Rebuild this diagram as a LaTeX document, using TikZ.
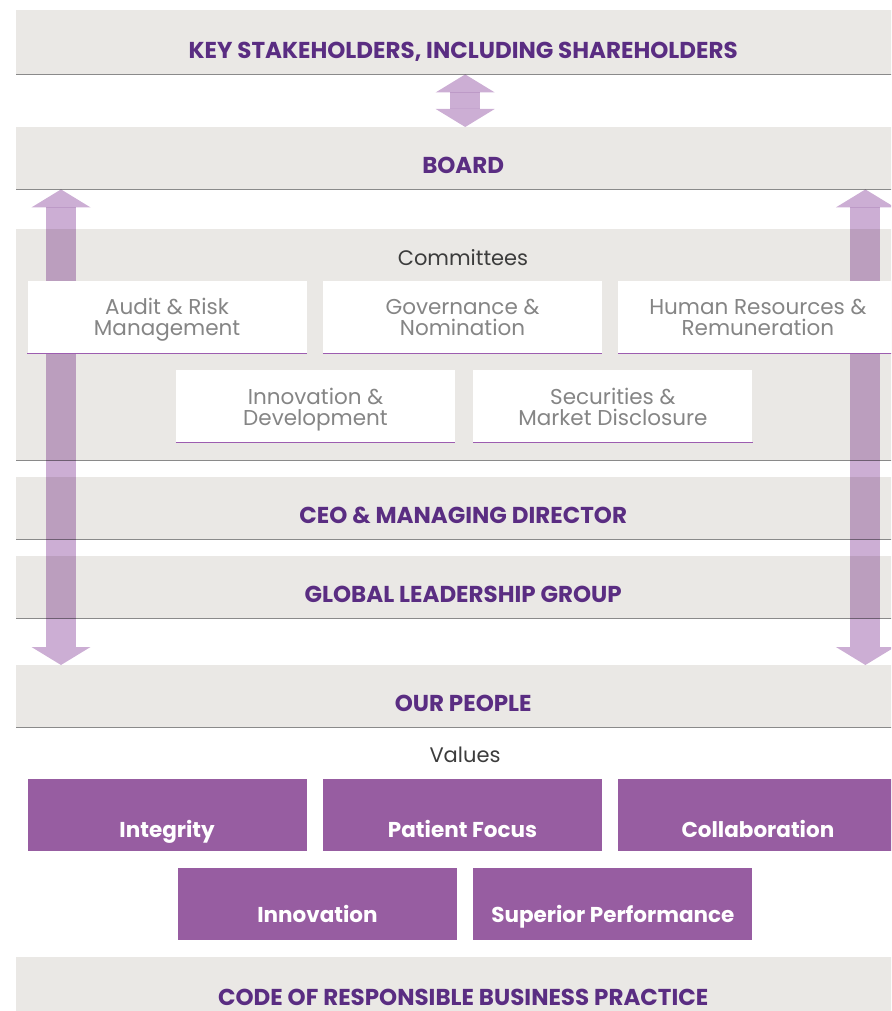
\documentclass[tikz,border=0pt]{standalone}
\usepackage{fontspec}
\setmainfont{Poppins}
\usetikzlibrary{positioning}
\usetikzlibrary{arrows.meta}

\definecolor{bandgray}{HTML}{EAE8E5}
\definecolor{linegray}{HTML}{8A8A8A}
\definecolor{darkplum}{HTML}{5A2D82}
\definecolor{plum}{HTML}{975DA1}
\definecolor{lilac}{HTML}{CCAED4}
\definecolor{boxline}{HTML}{9D5DB0}
\definecolor{boxtext}{HTML}{858585}
\definecolor{labeltext}{HTML}{3C3C3C}

\tikzset{
    band/.style={fill=bandgray, minimum width=894pt, minimum height=62pt,
        inner sep=0pt, anchor=north west, text height=31pt, text depth=0pt,
        text=darkplum, font=\fontsize{23}{26}\selectfont\bfseries},
    rule/.style={draw=linegray, line width=1.6pt},
    comm/.style={fill=white, minimum width=279pt, minimum height=72pt,
        inner sep=0pt, align=center, text=boxtext, text height=37pt,
        text depth=0pt, font=\fontsize{21.5}{21}\selectfont},
    commrule/.style={draw=boxline, line width=1.3pt},
    value/.style={fill=plum, minimum width=279pt, minimum height=72pt,
        inner sep=0pt, text depth=0pt, text height=44pt, text=white,
        font=\fontsize{21.5}{24}\selectfont\bfseries},
    heading/.style={inner sep=0pt, text=labeltext,
        font=\fontsize{21}{24}\selectfont},
    flow/.style={draw=lilac, line width=30pt,
        {Triangle[length=18pt,width=59pt,line width=0pt]}-{Triangle[length=18pt,width=59pt,line width=0pt]}}
}

\begin{document}
\begin{tikzpicture}[x=1pt, y=-1pt]
    \clip (0,0) rectangle (891,1011);
    % bands
    \node[band, minimum height=64pt, text height=33pt] (stake) at (16,10)
        {KEY STAKEHOLDERS, INCLUDING SHAREHOLDERS};
    \node[band] (board) at (16,127) {BOARD};
    \node[band, minimum height=231pt] (comms) at (16,229) {};
    \node[band] (ceo) at (16,477) {CEO \& MANAGING DIRECTOR};
    \node[band] (glg) at (16,556) {GLOBAL LEADERSHIP GROUP};
    \node[band] (people) at (16,665) {OUR PEOPLE};
    \node[band, minimum height=54pt, text height=42pt] (code) at (16,957)
        {CODE OF RESPONSIBLE BUSINESS PRACTICE};
    \foreach \b in {stake,board,comms,ceo,glg,people}
        \draw[rule] (\b.south west) -- (\b.south east);

    % arrows
    \begin{scope}[blend mode=multiply]
        \draw[flow] ([xshift=2pt]stake.south) -- ([xshift=2pt]board.north);
        \draw[flow] ([xshift=45pt]board.south west) -- ([xshift=45pt]people.north west);
        \draw[flow] ([xshift=-45pt]board.south east) -- ([xshift=-45pt]people.north east);
    \end{scope}

    % committees
    \node[heading] (committees) at (463,258) {Committees};
    \node[comm] (gov) at (462.5,317) {Governance \&\\Nomination};
    \node[comm, left=16pt of gov] (audit) {Audit \& Risk\\Management};
    \node[comm, right=16pt of gov] (hr) {Human Resources \&\\Remuneration};
    \node[comm, text height=38pt] (innov) at (315.5,406) {Innovation \&\\Development};
    \node[comm, text height=38pt, right=18pt of innov] (sec) {Securities \&\\Market Disclosure};
    \foreach \c in {audit,gov,hr,innov,sec}
        \draw[commrule] (\c.south west) -- (\c.south east);

    % values
    \node[heading] (values) at (465,755) {Values};
    \node[value] (focus) at (462.5,815) {Patient Focus};
    \node[value, left=16pt of focus] (integrity) {Integrity};
    \node[value, right=16pt of focus] (collab) {Collaboration};
    \node[value, text height=36pt] (innovation) at (317.5,904) {Innovation};
    \node[value, text height=36pt, right=16pt of innovation] (superior) {Superior Performance};
\end{tikzpicture}
\end{document}
